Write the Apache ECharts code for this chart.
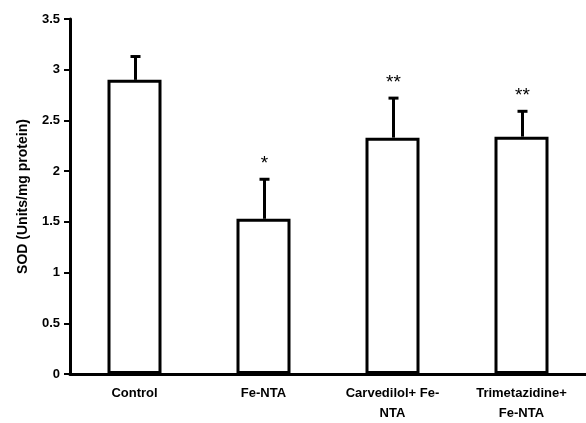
<!DOCTYPE html>
<html>
<head>
<meta charset="utf-8">
<script src="https://cdn.jsdelivr.net/npm/echarts@6/dist/echarts.min.js"></script>
<style>
  html, body { margin: 0; padding: 0; background: #fff; }
  #chart { width: 586px; height: 423px; }
</style>
</head>
<body>
<div id="chart"></div>
<script>
// 数据
var categories = ['Control', 'Fe-NTA', 'Carvedilol+ Fe-\nNTA', 'Trimetazidine+\nFe-NTA'];
var sodValues = [2.9, 1.53, 2.33, 2.34];
var sodErrors = [0.23, 0.39, 0.39, 0.25];
var marks = ['', '*', '**', '**'];
var yTicks = [0, 0.5, 1, 1.5, 2, 2.5, 3, 3.5];

var myChart = echarts.init(document.getElementById('chart'));

var errData = sodValues.map(function (v, i) {
  return [i, v, v + sodErrors[i]];
});

var option = {
  animation: false,
  backgroundColor: '#fff',
  grid: { left: 70, right: 0, top: 19, bottom: 47 },
  xAxis: {
    type: 'category',
    data: categories,
    axisLine: { lineStyle: { color: '#000', width: 3 } },
    axisTick: { show: false },
    axisLabel: {
      color: '#000', fontFamily: 'Liberation Sans', fontWeight: 'bold',
      fontSize: 13, lineHeight: 20, margin: 9, interval: 0
    }
  },
  yAxis: {
    type: 'value',
    min: 0, max: 3.5, interval: 0.5,
    name: 'SOD (Units/mg protein)',
    nameLocation: 'middle',
    nameGap: 40,
    nameTextStyle: { color: '#000', fontFamily: 'Liberation Sans', fontWeight: 'bold', fontSize: 14 },
    axisLine: { show: true, lineStyle: { color: '#000', width: 3 } },
    axisTick: { show: true, length: 6, lineStyle: { color: '#000', width: 2 } },
    splitLine: { show: false },
    axisLabel: {
      color: '#000', fontFamily: 'Liberation Sans', fontWeight: 'bold', fontSize: 13, margin: 10,
      formatter: function (v) { return yTicks.indexOf(v) >= 0 ? String(v) : ''; }
    }
  },
  series: [
    {
      type: 'bar',
      data: sodValues,
      barWidth: 54,
      itemStyle: { color: '#fff', borderColor: '#000', borderWidth: 3 },
      z: 2
    },
    {
      type: 'custom',
      data: errData,
      z: 3,
      renderItem: function (params, api) {
        var base = api.coord([api.value(0), api.value(1)]);
        var top = api.coord([api.value(0), api.value(2)]);
        var x = base[0] + 1;
        return {
          type: 'group',
          children: [
            { type: 'line', shape: { x1: x, y1: base[1], x2: x, y2: top[1] },
              style: { stroke: '#000', lineWidth: 3 } },
            { type: 'line', shape: { x1: x - 5, y1: top[1], x2: x + 5, y2: top[1] },
              style: { stroke: '#000', lineWidth: 3 } },
            { type: 'text', x: x, y: top[1] - 6,
              style: { text: marks[params.dataIndex], fill: '#000',
                       font: '19px Liberation Sans', align: 'center', verticalAlign: 'bottom' } }
          ]
        };
      }
    }
  ]
};
myChart.setOption(option);
</script>
</body>
</html>
